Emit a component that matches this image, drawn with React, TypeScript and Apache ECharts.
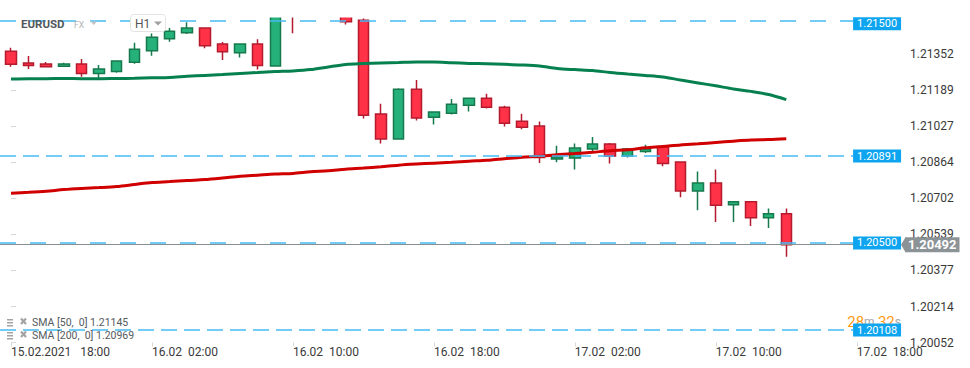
import { useEffect, useRef } from "react";
import * as echarts from "echarts";

// ---- data (hourly EURUSD candles, index 0 = 15.02 18:00) ----
const opens = [
  1.21363, 1.2131, 1.21305, 1.21295, 1.21305, 1.21263, 1.21272, 1.21313, 1.21365, 1.21419,
  1.21446, 1.21467, 1.21395, 1.21356, 1.21395, 1.21296, 1.21572, 1.2153, 1.21575, 1.2154,
  1.21502, 1.2108, 1.20968, 1.21192, 1.21066, 1.21084, 1.2112, 1.21151, 1.21111, 1.21048,
  1.21026, 1.20878, 1.20882, 1.20923, 1.20945, 1.20891, 1.20912, 1.20934, 1.20864, 1.20734,
  1.2077, 1.20672, 1.20685, 1.20613, 1.20631,
];
const closes = [
  1.21304, 1.21298, 1.21293, 1.21305, 1.21263, 1.21283, 1.21319, 1.21372, 1.21426, 1.21453,
  1.21467, 1.21387, 1.2136, 1.21395, 1.21299, 1.2157, 1.2153, 1.21575, 1.2154, 1.21495,
  1.21075, 1.20968, 1.21192, 1.21062, 1.21089, 1.21124, 1.21151, 1.21111, 1.21039, 1.21021,
  1.20884, 1.20887, 1.20927, 1.20945, 1.20891, 1.20923, 1.20923, 1.20858, 1.20734, 1.2077,
  1.2067, 1.20685, 1.20613, 1.20631, 1.20492,
];
const lows = [
  1.21293, 1.21283, 1.21292, 1.21293, 1.21248, 1.21239, 1.21266, 1.21306, 1.21342, 1.21405,
  1.2144, 1.21376, 1.21323, 1.21335, 1.2128, 1.21293, 1.21444, 1.21518, 1.2152, 1.21483,
  1.2106, 1.20948, 1.20966, 1.21051, 1.21033, 1.21078, 1.21091, 1.21105, 1.21024, 1.21012,
  1.2086, 1.20863, 1.2083, 1.20912, 1.20858, 1.20885, 1.20905, 1.20845, 1.20706, 1.20647,
  1.20594, 1.20594, 1.20576, 1.20567, 1.20438,
];
const highs = [
  1.21378, 1.21341, 1.21314, 1.21311, 1.21328, 1.21301, 1.2132, 1.21401, 1.21443, 1.21467,
  1.21493, 1.21468, 1.21404, 1.21396, 1.21417, 1.2159, 1.216, 1.2161, 1.2162, 1.2156,
  1.2151, 1.21126, 1.21196, 1.21233, 1.2109, 1.21148, 1.21152, 1.21171, 1.21117, 1.21081,
  1.21046, 1.20937, 1.20947, 1.20977, 1.2095, 1.20927, 1.20942, 1.20935, 1.20865, 1.20821,
  1.2083, 1.20689, 1.20689, 1.20655, 1.20655,
];
const sma50 = [
  1.21238, 1.21239, 1.21239, 1.2124, 1.21239, 1.21239, 1.2124, 1.21241, 1.21243, 1.21245,
  1.2125, 1.21254, 1.21258, 1.21263, 1.21267, 1.21271, 1.21274, 1.2128, 1.21292, 1.21303,
  1.21307, 1.2131, 1.21312, 1.21314, 1.21314, 1.21311, 1.21308, 1.21306, 1.21304, 1.21301,
  1.21296, 1.21285, 1.2128, 1.21276, 1.21267, 1.2126, 1.21254, 1.21247, 1.21233, 1.2122,
  1.21207, 1.21193, 1.21182, 1.21168, 1.21145,
];
const sma200 = [
  1.20724, 1.20728, 1.20733, 1.2074, 1.20745, 1.20749, 1.20754, 1.20763, 1.20772, 1.20776,
  1.20781, 1.20785, 1.20792, 1.208, 1.20805, 1.2081, 1.20813, 1.2082, 1.20825, 1.20832,
  1.20837, 1.20843, 1.2085, 1.20855, 1.20859, 1.20863, 1.20868, 1.20872, 1.20879, 1.20886,
  1.2089, 1.20897, 1.20902, 1.20908, 1.20915, 1.20919, 1.20928, 1.20934, 1.20941, 1.20946,
  1.20952, 1.20958, 1.20963, 1.20965, 1.20969,
];
const priceLevels = [1.215, 1.20891, 1.205, 1.20108];
const lastPrice = 1.20492;
const yTicks = [1.20052, 1.20214, 1.20377, 1.20539, 1.20702, 1.20864, 1.21027, 1.21189, 1.21352];
const xTickHours = [0, 8, 16, 24, 32, 40, 48];
const xTickLabels = [
  "15.02.2021\u00a0\u00a0\u00a018:00",
  "16.02\u00a0\u00a002:00",
  "16.02\u00a0\u00a010:00",
  "16.02\u00a0\u00a018:00",
  "17.02\u00a0\u00a002:00",
  "17.02\u00a0\u00a010:00",
  "17.02\u00a0\u00a018:00",
];
const instrument = "EURUSD";
const market = "FX";
const timeframe = "H1";
const smaNames = ["SMA [50,\u00a0\u00a00]", "SMA [200,\u00a0\u00a00]"];
const countdownMin = "28";
const countdownSec = "32";

// ---- layout / style constants ----
const Y_MIN = 1.20052;
const Y_MAX = 1.215145;
const X_MIN = -0.624;
const X_MAX = 50.51;
const TAG_X = 47.79;
const GRID_TOP = 17.5;
const GRID_RIGHT = 69;
const levelDash = [
  [16, 14],
  [16, 7],
  [16, 14],
  [16, 7],
];
const tagOffsetY = [3, 0, 0, 0];
const FONT = "Roboto, 'Noto Sans', sans-serif";

export default function App() {
  const ref = useRef<HTMLDivElement>(null);
  useEffect(() => {
    if (!ref.current) return;
    const chart = echarts.init(ref.current, null, { renderer: "svg" });

    const candleData = opens.map((o, i) => [i, o, closes[i], lows[i], highs[i]]);
    const levelLines: any[] = priceLevels.map((p, k) => [
      {
        coord: [X_MIN, p],
        lineStyle: { color: "#45bcf3", width: 1.5, type: levelDash[k] },
        label: {
          show: true,
          position: "end",
          distance: 0,
          offset: [0, tagOffsetY[k]],
          formatter: p.toFixed(5),
          backgroundColor: "#0ea5f0",
          color: "#ffffff",
          fontSize: 11,
          fontFamily: FONT,
          lineHeight: 11,
          padding: [1, 4],
        },
      },
      { coord: [TAG_X, p] },
    ]);
    const lastLine: any = [
      {
        coord: [X_MIN, lastPrice],
        lineStyle: { color: "#8a8f93", width: 1.2, type: "solid" },
        label: {
          show: true,
          position: "end",
          distance: 4,
          formatter: lastPrice.toFixed(5),
          backgroundColor: "#8c9397",
          color: "#ffffff",
          fontSize: 13,
          fontWeight: "bold",
          fontFamily: FONT,
          lineHeight: 13,
          padding: [1, 3],
        },
      },
      { coord: [X_MAX, lastPrice] },
    ];

    const option: any = {
      animation: false,
      textStyle: { fontFamily: FONT },
      grid: { left: 0, right: GRID_RIGHT, top: GRID_TOP, bottom: 25.5, containLabel: false },
      xAxis: {
        type: "value",
        min: X_MIN,
        max: X_MAX,
        axisLine: { show: false },
        splitLine: { show: false },
        axisTick: {
          show: true,
          customValues: xTickHours,
          length: 4,
          lineStyle: { color: "#d8d8d8" },
        },
        axisLabel: {
          customValues: xTickHours,
          formatter: (v: number) => xTickLabels[xTickHours.indexOf(Math.round(v))] ?? "",
          align: "left",
          margin: 3,
          fontSize: 12,
          color: "#3a3a3a",
          fontFamily: FONT,
        },
      },
      yAxis: {
        type: "value",
        position: "right",
        min: Y_MIN,
        max: Y_MAX,
        axisLine: { show: false },
        splitLine: { show: false },
        axisTick: {
          show: true,
          customValues: yTicks,
          length: 5,
          lineStyle: { color: "#d8d8d8" },
        },
        axisLabel: {
          customValues: yTicks,
          formatter: (v: number) => v.toFixed(5),
          margin: 9,
          fontSize: 12,
          color: "#3a3a3a",
          fontFamily: FONT,
        },
      },
      series: [
        {
          type: "candlestick",
          data: candleData,
          encode: { x: 0, y: [1, 2, 3, 4] },
          barWidth: 11,
          clip: true,
          itemStyle: {
            color: "#27b17a",
            color0: "#ff3248",
            borderColor: "#167a4d",
            borderColor0: "#b41b2e",
            borderWidth: 1.5,
          },
          markLine: {
            silent: true,
            symbol: "none",
            animation: false,
            data: [lastLine, ...levelLines],
          },
        },
        {
          type: "line",
          name: smaNames[0],
          data: sma50.map((v, i) => [i, v]),
          showSymbol: false,
          smooth: 0.3,
          lineStyle: { color: "#06804f", width: 3 },
          z: 3,
        },
        {
          type: "line",
          name: smaNames[1],
          data: sma200.map((v, i) => [i, v]),
          showSymbol: false,
          smooth: 0.3,
          lineStyle: { color: "#d10000", width: 3 },
          z: 3,
        },
      ],
    };
    chart.setOption(option);

    const tip = chart.convertToPixel({ xAxisIndex: 0, yAxisIndex: 0 }, [X_MAX, lastPrice]) as number[];
    const plotRight = chart.getWidth() - GRID_RIGHT;
    const legendRow = (y: number, label: string) => [
      { type: "rect", z: 20, shape: { x: 7, y: y - 3.5, width: 6, height: 1.5 }, style: { fill: "#a3a3a3" } },
      { type: "rect", z: 20, shape: { x: 7, y: y - 0.5, width: 6, height: 1.5 }, style: { fill: "#a3a3a3" } },
      { type: "rect", z: 20, shape: { x: 7, y: y + 2.5, width: 6, height: 1.5 }, style: { fill: "#a3a3a3" } },
      { type: "line", z: 20, shape: { x1: 21, y1: y - 4, x2: 26, y2: y + 1.5 }, style: { stroke: "#a3a3a3", lineWidth: 2.2 } },
      { type: "line", z: 20, shape: { x1: 21, y1: y + 1.5, x2: 26, y2: y - 4 }, style: { stroke: "#a3a3a3", lineWidth: 2.2 } },
      {
        type: "text",
        z: 20,
        style: {
          x: 32,
          y,
          text: label,
          font: `10.5px ${FONT}`,
          fill: "#555a5e",
          textVerticalAlign: "middle",
        },
      },
    ];
    const graphic: any[] = [
      // emulates the plot's clipping above its top edge
      { type: "rect", z: 4, silent: true, shape: { x: 0, y: 0, width: plotRight, height: GRID_TOP }, style: { fill: "#ffffff" } },
      {
        type: "text",
        z: 20,
        style: { x: 21, y: 23.5, text: instrument, font: `bold 11.5px ${FONT}`, fill: "#51575d", textVerticalAlign: "middle" },
      },
      {
        type: "text",
        z: 20,
        style: { x: 74, y: 24.5, text: market, font: `8.5px ${FONT}`, fill: "#b3b3b3", textVerticalAlign: "middle" },
      },
      { type: "polygon", z: 20, shape: { points: [[90.5, 21.5], [97, 21.5], [93.75, 25]] }, style: { fill: "#c4c4c4" } },
      {
        type: "rect",
        z: 20,
        shape: { x: 130.5, y: 14.5, width: 35, height: 17, r: 3 },
        style: { fill: "#ffffff", stroke: "#e3e3e3", lineWidth: 1 },
      },
      {
        type: "text",
        z: 21,
        style: { x: 135, y: 23.5, text: timeframe, font: `12px ${FONT}`, fill: "#555", textVerticalAlign: "middle" },
      },
      { type: "polygon", z: 21, shape: { points: [[154, 21.5], [162, 21.5], [158, 25.5]] }, style: { fill: "#a0a0a0" } },
      ...legendRow(322.5, `${smaNames[0]} ${sma50[sma50.length - 1].toFixed(5)}`),
      ...legendRow(335.5, `${smaNames[1]} ${sma200[sma200.length - 1].toFixed(5)}`),
      {
        type: "text",
        z: 0,
        style: {
          x: 901,
          y: 322,
          text: `{a|${countdownMin}}{b|m} {a|${countdownSec}}{b|s}`,
          textAlign: "right",
          textVerticalAlign: "middle",
          rich: {
            a: { fontSize: 15, fill: "#ff9a14", fontFamily: FONT },
            b: { fontSize: 12, fill: "#a8a8a8", fontFamily: FONT },
          },
        },
      },
      {
        type: "polygon",
        z: 30,
        shape: { points: [[tip[0], tip[1]], [tip[0] + 4.5, tip[1] - 7.5], [tip[0] + 4.5, tip[1] + 7.5]] },
        style: { fill: "#8c9397" },
      },
    ];
    chart.setOption({ graphic });

    return () => chart.dispose();
  }, []);

  return (
    <div
      ref={ref}
      style={{ position: "absolute", left: 0, top: 0, width: 970, height: 368, background: "#ffffff" }}
    />
  );
}
